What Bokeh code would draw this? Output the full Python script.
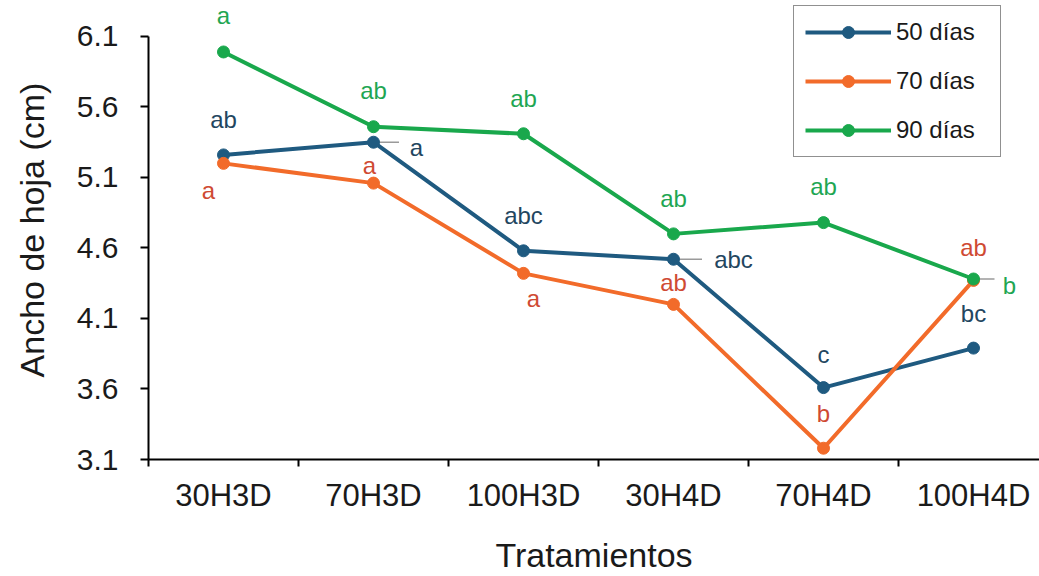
from bokeh.plotting import figure
from bokeh.models import FixedTicker, ColumnDataSource, Legend, LegendItem, Range1d
from bokeh.core.properties import value
from bokeh.embed import file_html
from bokeh.resources import INLINE

# ---- data ----
tratamientos = ["30H3D", "70H3D", "100H3D", "30H4D", "70H4D", "100H4D"]
dias50 = [5.26, 5.35, 4.58, 4.52, 3.61, 3.89]
dias70 = [5.20, 5.06, 4.42, 4.20, 3.18, 4.37]
dias90 = [5.99, 5.46, 5.41, 4.70, 4.78, 4.38]
letras50 = ["ab", "a", "abc", "abc", "c", "bc"]
letras70 = ["a", "a", "a", "ab", "b", "ab"]
letras90 = ["a", "ab", "ab", "ab", "ab", "b"]
series_names = ["50 días", "70 días", "90 días"]
y_ticks = [3.1, 3.6, 4.1, 4.6, 5.1, 5.6, 6.1]

# ---- styles / label offsets (screen px, +y is downward) ----
line_colors = ["#1f5a80", "#f26b2a", "#19a84c"]
label_colors = ["#23465f", "#cf4a33", "#1fa653"]
dx50 = [0, 43, 0, 60, 0, 0]
dy50 = [-35, 5, -35, 0, -33, -35]
dx70 = [-15, -4, 10, 0, 0, 0]
dy70 = [27, -18, 25, -22, -35, -33]
dx90 = [0, 0, 0, 0, 0, 36]
dy90 = [-36, -36, -35, -35, -36, 6]
# leader lines (series index, category index, length in x units)
leaders = [(0, 1, 0.17), (0, 3, 0.19), (2, 5, 0.14)]

FONT = "Liberation Sans"
xs = list(range(len(tratamientos)))

p = figure(width=1039, height=576, output_backend="svg", toolbar_location=None,
           x_range=Range1d(-0.5, 5.44), y_range=Range1d(3.1, 6.355),
           min_border_left=148, min_border_right=0, min_border_top=0,
           min_border_bottom=116)
p.outline_line_color = None
p.xgrid.visible = False
p.ygrid.visible = False
p.background_fill_color = "white"

# axes
p.yaxis.ticker = FixedTicker(ticks=y_ticks)
p.yaxis.bounds = (3.1, 6.1)
p.yaxis.major_label_overrides = {t: f"{t:.1f}" for t in y_ticks}
p.yaxis.major_tick_in = 0
p.yaxis.major_tick_out = 8
p.yaxis.minor_tick_line_color = None
p.yaxis.major_label_standoff = 22
p.yaxis.major_label_text_font = FONT
p.yaxis.major_label_text_font_size = "30px"
p.yaxis.major_label_text_color = "#1a1a1a"
p.yaxis.axis_label = "Ancho de hoja (cm)"
p.yaxis.axis_label_text_font = FONT
p.yaxis.axis_label_text_font_size = "34px"
p.yaxis.axis_label_text_font_style = "normal"
p.yaxis.axis_label_text_color = "#1a1a1a"
p.yaxis.axis_label_standoff = 23
p.yaxis.axis_line_width = 2
p.yaxis.major_tick_line_width = 2

boundaries = [i - 0.5 for i in range(len(tratamientos))]
p.xaxis.ticker = FixedTicker(ticks=xs, minor_ticks=boundaries)
p.xaxis.major_label_overrides = {i: t for i, t in enumerate(tratamientos)}
p.xaxis.major_tick_in = 0
p.xaxis.major_tick_out = 0
p.xaxis.minor_tick_in = 0
p.xaxis.minor_tick_out = 7
p.xaxis.minor_tick_line_color = "black"
p.xaxis.minor_tick_line_width = 2
p.xaxis.major_label_standoff = 11
p.xaxis.major_label_text_font = FONT
p.xaxis.major_label_text_font_size = "31px"
p.xaxis.major_label_text_color = "#1a1a1a"
p.xaxis.axis_label = "Tratamientos"
p.xaxis.axis_label_text_font = FONT
p.xaxis.axis_label_text_font_size = "34px"
p.xaxis.axis_label_text_font_style = "normal"
p.xaxis.axis_label_text_color = "#1a1a1a"
p.xaxis.axis_label_standoff = 20
p.xaxis.axis_line_width = 2

all_vals = [dias50, dias70, dias90]
all_letters = [letras50, letras70, letras90]
all_dx = [dx50, dx70, dx90]
all_dy = [dy50, dy70, dy90]

# leader lines
for si, ci, ln in leaders:
    yv = all_vals[si][ci]
    p.segment(x0=[xs[ci]], y0=[yv], x1=[xs[ci] + ln], y1=[yv],
              line_color="#9a9a9a", line_width=1.5)

items = []
for vals, lc, name in zip(all_vals, line_colors, series_names):
    src = ColumnDataSource(dict(x=xs, y=vals))
    r1 = p.line("x", "y", source=src, line_color=lc, line_width=4)
    r2 = p.scatter("x", "y", source=src, size=12, fill_color=lc, line_color=lc)
    items.append(LegendItem(label=name, renderers=[r1, r2]))

for vals, letters, dx, dy, tc in zip(all_vals, all_letters, all_dx, all_dy, label_colors):
    src = ColumnDataSource(dict(x=xs, y=vals, t=letters, dx=dx, dy=dy))
    p.text("x", "y", text="t", source=src, x_offset="dx", y_offset="dy",
           text_font=value(FONT), text_font_size="24px", text_color=tc,
           text_align="center", text_baseline="middle", level="overlay")

legend = Legend(items=items, location=(645, 302), orientation="vertical",
                label_text_font=FONT, label_text_font_size="24px",
                label_text_color="#1a1a1a", glyph_width=86, glyph_height=30,
                label_height=30, label_width=93, label_standoff=5,
                spacing=19, padding=11, margin=0,
                border_line_color="#222222", border_line_width=1.5,
                background_fill_color="white", background_fill_alpha=1)
p.add_layout(legend)

open("out.html", "w").write(file_html(p, INLINE))
